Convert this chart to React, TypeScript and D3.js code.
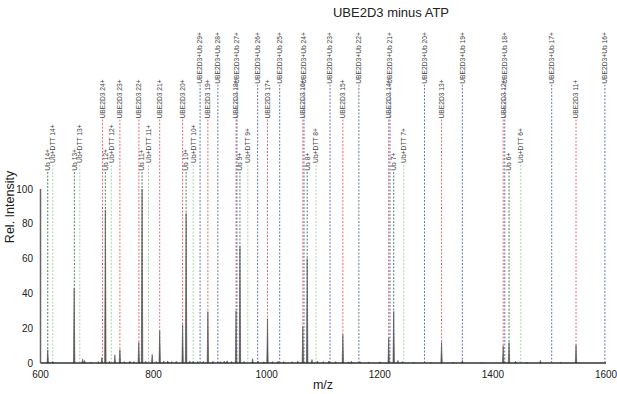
import React from 'react';
import * as d3 from 'd3';

// peaks (m/z, relative intensity)
const peakMz = [612.8, 621.7, 659.5, 674.5, 678, 708.5, 714.7, 731.5, 740.4, 773.8, 779.6, 797.5, 810.8, 825, 851.3, 857.5, 870, 896, 930, 945.8, 952.7, 975, 1001.4, 1020, 1063.9, 1071.6, 1080, 1110, 1134.7, 1150, 1215.7, 1224.6, 1232, 1309.2, 1346, 1418.2, 1428.5, 1440, 1484, 1547];
const peakInt = [7.6, 0.8, 43, 2.3, 1.5, 3.2, 88, 4.7, 7.7, 12, 100, 5, 18.7, 1.2, 22, 86, 1, 29.6, 1.3, 30, 67, 2.5, 25.5, 1, 21, 60, 2, 1.2, 16.3, 1, 14.4, 29.7, 1.5, 12, 1.5, 10, 11.8, 1, 1.5, 10.5];

// low baseline noise
const noiseMz = [690, 702, 722, 748, 758, 765, 786, 805, 818, 832, 840, 864, 878, 888, 905, 918, 925, 938, 960, 985, 995, 1010, 1030, 1045, 1055, 1090, 1100, 1122, 1145, 1165, 1180, 1200, 1240, 1260, 1290, 1330, 1380, 1460, 1520];
const noiseInt = [0.6, 0.8, 1.0, 0.9, 1.1, 0.8, 1.0, 0.9, 1.2, 0.8, 1.0, 1.2, 0.9, 1.0, 1.0, 0.8, 1.1, 0.9, 0.9, 1.0, 0.7, 0.9, 0.8, 0.8, 1.0, 1.1, 0.8, 0.8, 0.7, 0.8, 0.6, 0.7, 0.8, 0.5, 0.5, 0.5, 0.4, 0.4, 0.4];

// annotated charge states
const ube2d3Charge = [24, 23, 22, 21, 20, 19, 18, 17, 16, 15, 14, 13, 12, 11];
const ube2d3Mz = [709.6, 740.4, 774.0, 810.8, 851.3, 896.0, 945.8, 1001.4, 1063.9, 1134.7, 1215.7, 1309.2, 1418.2, 1547.0];

const ubCharge = [14, 13, 12, 11, 10, 9, 8, 7, 6];
const ubMz = [612.8, 659.8, 714.7, 779.6, 857.5, 952.7, 1071.6, 1224.6, 1428.5];

const ubDttCharge = [14, 13, 12, 11, 10, 9, 8, 7, 6];
const ubDttMz = [621.7, 669.5, 725.2, 791.0, 870.0, 966.6, 1087.3, 1242.4, 1449.3];

const conjCharge = [29, 28, 27, 26, 25, 24, 23, 22, 21, 20, 19, 18, 17, 16];
const conjMz = [882.2, 913.6, 947.4, 984.0, 1023.0, 1066.0, 1112.0, 1163.0, 1218.0, 1279.0, 1346.0, 1421.0, 1504.0, 1598.0];

const xTicks = [600, 800, 1000, 1200, 1400, 1600];
const yTicks = [0, 20, 40, 60, 80, 100];

const W = 617;
const H = 394;

const App = () => {
  const x = d3.scaleLinear().domain([600, 1600]).range([40.5, 606]);
  const y = d3.scaleLinear().domain([0, 100]).range([363, 189]);

  // label start level (rel. intensity units) per annotation group
  const groups = [
    { name: 'ub', mz: ubMz, text: ubCharge.map(c => `Ub ${c}+`), color: '#2b7f46', level: 110.5 },
    { name: 'dtt', mz: ubDttMz, text: ubDttCharge.map(c => `Ub+DTT ${c}+`), color: '#9fd39c', level: 115 },
    { name: 'ube', mz: ube2d3Mz, text: ube2d3Charge.map(c => `UBE2D3 ${c}+`), color: '#e35b66', level: 140.5 },
    { name: 'conj', mz: conjMz, text: conjCharge.map(c => `UBE2D3+Ub ${c}+`), color: '#5566b4', level: 160.5 },
  ];

  const spike = (m: number, h: number, hw: number) =>
    `M${x(m - hw)},${y(0)}L${x(m)},${y(h)}L${x(m + hw)},${y(0)}Z`;

  const font = 'Liberation Sans, Arial, sans-serif';

  return (
    <svg width={W} height={H} style={{ position: 'absolute', left: 0, top: 0, background: '#fff' }} fontFamily={font}>
      <text x={391} y={17} fontSize={13} textAnchor="middle" fill="#222">UBE2D3 minus ATP</text>

      {/* dashed annotation lines + labels */}
      {groups.map(g => (
        <g key={g.name}>
          {g.mz.map((m, i) => (
            <g key={i}>
              <line x1={x(m)} x2={x(m)} y1={y(0)} y2={y(g.level) + 1}
                stroke={g.color} strokeWidth={0.9} strokeDasharray="2,1.5" />
              <text transform={`translate(${x(m)},${y(g.level)}) rotate(-90)`}
                fontSize={6.7} fill="#444" dy="0.35em">{g.text[i]}</text>
            </g>
          ))}
        </g>
      ))}

      {/* spectrum */}
      <g fill="#555" stroke="#555" strokeWidth={0.6}>
        {noiseMz.map((m, i) => <path key={'n' + i} d={spike(m, noiseInt[i], 0.9)} />)}
        {peakMz.map((m, i) => <path key={'p' + i} d={spike(m, peakInt[i], 1.3)} />)}
      </g>

      {/* axes */}
      <line x1={x(600)} x2={x(600)} y1={y(0)} y2={y(100)} stroke="#666" strokeWidth={1.5} />
      <line x1={x(600)} x2={x(1600)} y1={y(0)} y2={y(0)} stroke="#333" strokeWidth={1.3} />
      {xTicks.map(t => (
        <text key={t} x={x(t)} y={378} fontSize={10} textAnchor="middle" fill="#222">{t}</text>
      ))}
      {yTicks.map(t => (
        <text key={t} x={33} y={y(t)} dy="0.35em" fontSize={10} textAnchor="end" fill="#222">{t}</text>
      ))}
      <text transform={`translate(14,207) rotate(-90)`} fontSize={12.5} textAnchor="middle" fill="#222">Rel. Intensity</text>
      <text x={323} y={389} fontSize={12.5} textAnchor="middle" fill="#222">m/z</text>
    </svg>
  );
};

export default App;
